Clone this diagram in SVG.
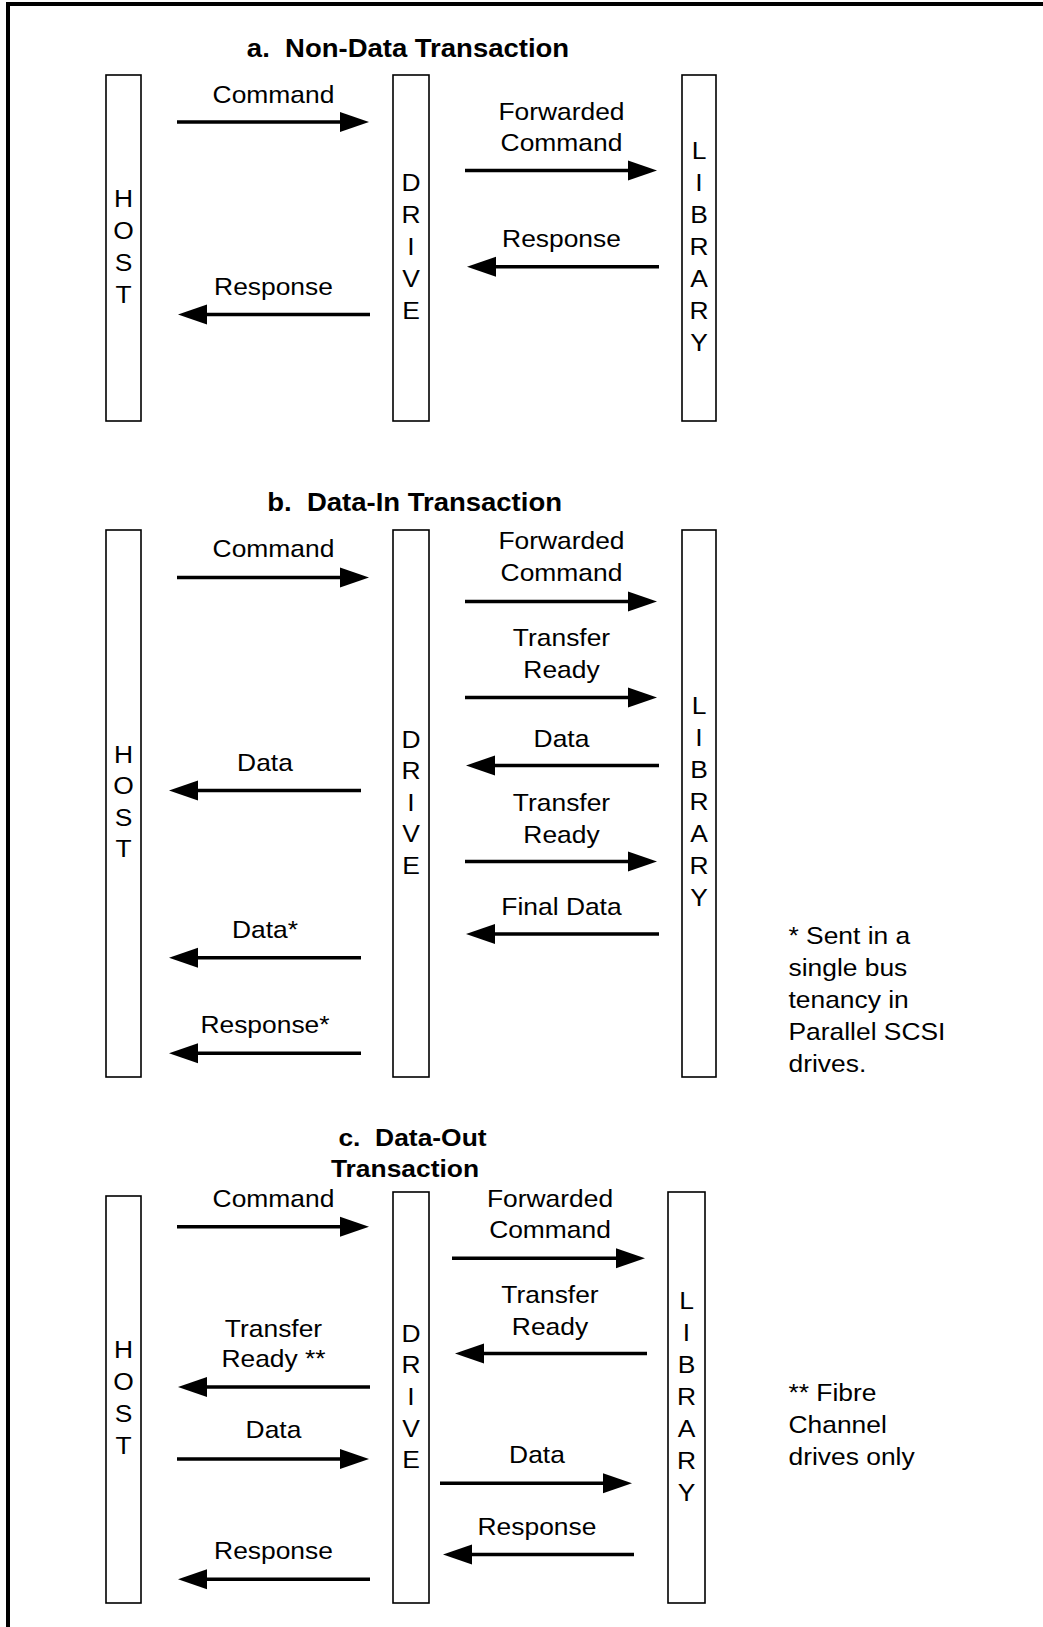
<svg xmlns="http://www.w3.org/2000/svg" width="1043" height="1627" viewBox="0 0 1043 1627">
  <style>
    .box { fill: #ffffff; stroke: #000000; stroke-width: 1.6; }
    .wire { stroke: #000000; stroke-width: 3.5; fill: none; marker-end: url(#head); }
    .t { font-family: "Liberation Sans", Arial, Helvetica, sans-serif; font-size: 24px; fill: #000000; }
    .c { text-anchor: middle; }
    .title { font-weight: bold; }
  </style>
  <defs>
    <!-- solid triangular arrowhead, 29 long x 20 wide -->
    <marker id="head" markerUnits="userSpaceOnUse" markerWidth="29" markerHeight="20" refX="2" refY="10" orient="auto" overflow="visible">
      <path d="M0,0 L29,10 L0,20 Z" fill="#000000"/>
    </marker>
  </defs>

  <rect x="0" y="0" width="1043" height="1627" fill="#ffffff"/>
  <!-- frame: top and left rules -->
  <path d="M8,1627 V4 H1043" fill="none" stroke="#000000" stroke-width="4"/>

  <!-- section titles (text is stretched 1.1x horizontally, so x values are divided by 1.1) -->
  <g id="titles">
    <text class="t c title" style="font-size:25px" transform="scale(1.1 1)" x="370.91" y="57">a.&#160; Non-Data Transaction</text>
    <text class="t c title" style="font-size:25px" transform="scale(1.1 1)" x="376.91" y="511.5">b.&#160; Data-In Transaction</text>
    <text class="t c title" transform="scale(1.1 1)" x="375" y="1146">c.&#160; Data-Out</text>
    <text class="t c title" transform="scale(1.1 1)" x="368.18" y="1177.5">Transaction</text>
  </g>

  <!-- a. Non-Data Transaction -->
  <g id="a-host">
    <rect class="box" x="106" y="75" width="35" height="346"/>
    <text class="t c" transform="scale(1.1 1)"><tspan x="112.27" y="207.5">H</tspan><tspan x="112.27" y="239.2">O</tspan><tspan x="112.27" y="270.9">S</tspan><tspan x="112.27" y="302.6">T</tspan></text>
  </g>
  <g id="a-drive">
    <rect class="box" x="393" y="75" width="36" height="346"/>
    <text class="t c" transform="scale(1.1 1)"><tspan x="373.64" y="191.5">D</tspan><tspan x="373.64" y="223.5">R</tspan><tspan x="373.64" y="255.5">I</tspan><tspan x="373.64" y="287.5">V</tspan><tspan x="373.64" y="319.5">E</tspan></text>
  </g>
  <g id="a-library">
    <rect class="box" x="682" y="75" width="34" height="346"/>
    <text class="t c" transform="scale(1.1 1)"><tspan x="635.45" y="159">L</tspan><tspan x="635.45" y="191">I</tspan><tspan x="635.45" y="223">B</tspan><tspan x="635.45" y="255">R</tspan><tspan x="635.45" y="287">A</tspan><tspan x="635.45" y="319">R</tspan><tspan x="635.45" y="351">Y</tspan></text>
  </g>

  <!-- b. Data-In Transaction -->
  <g id="b-host">
    <rect class="box" x="106" y="530" width="35" height="547"/>
    <text class="t c" transform="scale(1.1 1)"><tspan x="112.27" y="763">H</tspan><tspan x="112.27" y="794.5">O</tspan><tspan x="112.27" y="826">S</tspan><tspan x="112.27" y="857.5">T</tspan></text>
  </g>
  <g id="b-drive">
    <rect class="box" x="393" y="530" width="36" height="547"/>
    <text class="t c" transform="scale(1.1 1)"><tspan x="373.64" y="748">D</tspan><tspan x="373.64" y="779.5">R</tspan><tspan x="373.64" y="811">I</tspan><tspan x="373.64" y="842.5">V</tspan><tspan x="373.64" y="874">E</tspan></text>
  </g>
  <g id="b-library">
    <rect class="box" x="682" y="530" width="34" height="547"/>
    <text class="t c" transform="scale(1.1 1)"><tspan x="635.45" y="714">L</tspan><tspan x="635.45" y="746">I</tspan><tspan x="635.45" y="778">B</tspan><tspan x="635.45" y="810.5">R</tspan><tspan x="635.45" y="842.5">A</tspan><tspan x="635.45" y="874.5">R</tspan><tspan x="635.45" y="906.5">Y</tspan></text>
  </g>

  <!-- c. Data-Out Transaction -->
  <g id="c-host">
    <rect class="box" x="106" y="1196" width="35" height="407"/>
    <text class="t c" transform="scale(1.1 1)"><tspan x="112.27" y="1358">H</tspan><tspan x="112.27" y="1390">O</tspan><tspan x="112.27" y="1422">S</tspan><tspan x="112.27" y="1454">T</tspan></text>
  </g>
  <g id="c-drive">
    <rect class="box" x="393" y="1192" width="36" height="411"/>
    <text class="t c" transform="scale(1.1 1)"><tspan x="373.64" y="1342">D</tspan><tspan x="373.64" y="1373.5">R</tspan><tspan x="373.64" y="1405">I</tspan><tspan x="373.64" y="1437">V</tspan><tspan x="373.64" y="1468.5">E</tspan></text>
  </g>
  <g id="c-library">
    <rect class="box" x="668" y="1192" width="37" height="411"/>
    <text class="t c" transform="scale(1.1 1)"><tspan x="624.09" y="1309">L</tspan><tspan x="624.09" y="1341">I</tspan><tspan x="624.09" y="1373">B</tspan><tspan x="624.09" y="1405">R</tspan><tspan x="624.09" y="1437">A</tspan><tspan x="624.09" y="1469">R</tspan><tspan x="624.09" y="1501">Y</tspan></text>
  </g>

  <!-- message arrows: each line stops 27px short of the tip, the marker supplies the head -->
  <g id="connectors">
    <!-- a -->
    <line class="wire" x1="177" y1="122" x2="342" y2="122"/>
    <line class="wire" x1="465" y1="170.5" x2="630" y2="170.5"/>
    <line class="wire" x1="659" y1="266.7" x2="494" y2="266.7"/>
    <line class="wire" x1="370" y1="314.5" x2="205" y2="314.5"/>
    <!-- b -->
    <line class="wire" x1="177" y1="577.5" x2="342" y2="577.5"/>
    <line class="wire" x1="465" y1="601.5" x2="630" y2="601.5"/>
    <line class="wire" x1="465" y1="697.4" x2="630" y2="697.4"/>
    <line class="wire" x1="659" y1="765.5" x2="493" y2="765.5"/>
    <line class="wire" x1="361" y1="790.5" x2="196" y2="790.5"/>
    <line class="wire" x1="465" y1="861.4" x2="630" y2="861.4"/>
    <line class="wire" x1="659" y1="934" x2="493" y2="934"/>
    <line class="wire" x1="361" y1="957.7" x2="196" y2="957.7"/>
    <line class="wire" x1="361" y1="1053.2" x2="196" y2="1053.2"/>
    <!-- c -->
    <line class="wire" x1="177" y1="1226.7" x2="342" y2="1226.7"/>
    <line class="wire" x1="452" y1="1258.3" x2="618" y2="1258.3"/>
    <line class="wire" x1="647" y1="1353.5" x2="482" y2="1353.5"/>
    <line class="wire" x1="370" y1="1387" x2="205" y2="1387"/>
    <line class="wire" x1="177" y1="1459" x2="342" y2="1459"/>
    <line class="wire" x1="440" y1="1483.3" x2="605" y2="1483.3"/>
    <line class="wire" x1="634" y1="1554.5" x2="470" y2="1554.5"/>
    <line class="wire" x1="370" y1="1579.3" x2="205" y2="1579.3"/>

    <!-- arrow labels -->
    <g class="t c" transform="scale(1.1 1)">
      <text x="248.64" y="103">Command</text>
      <text x="510.45" y="120">Forwarded</text>
      <text x="510.45" y="150.7">Command</text>
      <text x="510.45" y="247">Response</text>
      <text x="248.64" y="295">Response</text>

      <text x="248.64" y="557.5">Command</text>
      <text x="510.45" y="549.5">Forwarded</text>
      <text x="510.45" y="581">Command</text>
      <text x="510.45" y="646">Transfer</text>
      <text x="510.45" y="677.7">Ready</text>
      <text x="510.45" y="747">Data</text>
      <text x="240.91" y="771.2">Data</text>
      <text x="510.45" y="811">Transfer</text>
      <text x="510.45" y="843">Ready</text>
      <text x="510.45" y="914.7">Final Data</text>
      <text x="240.91" y="938.5">Data*</text>
      <text x="240.91" y="1033.5">Response*</text>

      <text x="248.64" y="1206.7">Command</text>
      <text x="500" y="1206.7">Forwarded</text>
      <text x="500" y="1238.3">Command</text>
      <text x="500" y="1303">Transfer</text>
      <text x="500" y="1335">Ready</text>
      <text x="248.64" y="1336.7">Transfer</text>
      <text x="248.64" y="1366.7">Ready **</text>
      <text x="248.64" y="1438.3">Data</text>
      <text x="488.18" y="1462.7">Data</text>
      <text x="488.18" y="1535">Response</text>
      <text x="248.64" y="1559.3">Response</text>
    </g>
  </g>

  <!-- footnotes -->
  <g id="notes" class="t" transform="scale(1.1 1)">
    <text x="716.82" y="944">* Sent in a</text>
    <text x="716.82" y="976">single bus</text>
    <text x="716.82" y="1008">tenancy in</text>
    <text x="716.82" y="1040">Parallel SCSI</text>
    <text x="716.82" y="1072">drives.</text>
    <text x="716.82" y="1401.5">** Fibre</text>
    <text x="716.82" y="1433.5">Channel</text>
    <text x="716.82" y="1465">drives only</text>
  </g>
</svg>
